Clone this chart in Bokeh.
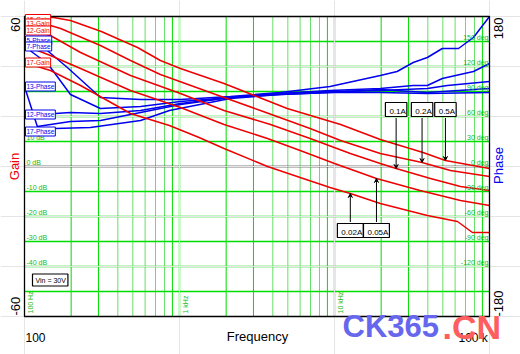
import math
import numpy as np
from bokeh.plotting import figure
from bokeh.models import Range1d, Label, Arrow, VeeHead
from bokeh.embed import file_html
from bokeh.resources import INLINE

# ---------------- data ----------------
# gain curves (dB) for load currents
g05_f = [100, 154, 198, 313, 536, 753, 1014, 1938, 4955, 10950, 19750, 37270, 51960, 100000]
g05_v = [60, 59.6, 58.4, 54, 47.6, 42.4, 39.2, 33.2, 23.2, 16.8, 10.8, 5.6, 2.4, -0.8]

g02_f = [100, 127, 171, 309, 483, 753, 1938, 3327, 6961, 10950, 19750, 36720, 56000, 100000]
g02_v = [58, 57.6, 55.2, 48.4, 42.4, 36.8, 27.6, 22.4, 15.2, 10.4, 5.2, 1.6, -1.6, -4]

g01_f = [100, 147, 230, 483, 1014, 1938, 3865, 6961, 12650, 19750, 24980, 41600, 65000, 100000]
g01_v = [55.2, 52.4, 45.6, 36.4, 29.2, 22.4, 16.8, 11.2, 5.2, 1.2, -0.8, -4.8, -8, -9.6]

g005_f = [100, 147, 230, 483, 1014, 1938, 3696, 6004, 10000, 18650, 35650, 65000, 100000]
g005_v = [48.4, 44.4, 39.2, 30.4, 23.6, 16.8, 11.2, 6.4, 1.2, -4.8, -9.6, -13.6, -15.6]

g002_f = [100, 147, 230, 483, 861, 1338, 1938, 3696, 6004, 9356, 12650, 19750, 39720, 62160, 77600, 100000]
g002_v = [41.6, 38.4, 32.4, 21.2, 16.4, 11.6, 7.2, 0, -4.4, -8.4, -10.8, -14.8, -19.6, -22, -26.4, -26.4]

# phase curves (deg)
p5_f = [100, 133, 189, 309, 561, 1014, 2127, 4475, 9356, 19750, 25350, 32200, 39720, 49600, 63100, 78800, 100000]
p5_v = [151.2, 142.8, 118.8, 82.8, 80.4, 80.4, 84, 88.8, 96, 109.2, 114, 124.8, 130.8, 141.6, 141.6, 154.8, 180]

p7_f = [100, 141, 198, 309, 561, 1014, 2127, 4475, 9356, 19750, 32200, 39720, 49600, 78800, 100000]
p7_v = [144, 123.6, 86.4, 69.6, 72, 78, 82.8, 87.6, 91.2, 93.6, 97.2, 97.2, 105.6, 114, 123.6]

p13_f = [100, 121, 198, 309, 561, 1014, 2127, 4475, 9356, 19750, 39720, 53520, 100000]
p13_v = [96, 48, 54, 55.2, 64.8, 74.4, 82.8, 87.6, 90, 91.2, 93.6, 97.2, 102]

p12_f = [100, 158, 198, 309, 561, 1014, 2127, 4475, 9356, 19750, 39720, 100000]
p12_v = [62.4, 63.6, 64.8, 63.6, 67.2, 75.6, 82.8, 86.4, 88.8, 92.4, 88.8, 93.6]

p17_f = [100, 158, 266, 561, 861, 2127, 4475, 9356, 19750, 39720, 100000]
p17_v = [42, 45.6, 46.8, 55.2, 67.2, 81.6, 86.4, 88.8, 88.8, 87.6, 88.8]

gain_names = ["15-Gain", "13-Gain", "12-Gain", "17-Gain"]
gain_name_pos = [59.0, 57.2, 54.4, 41.6]
phase_names = ["5-Phase", "7-Phase", "13-Phase", "12-Phase", "17-Phase"]
phase_name_pos = [151.2, 144, 96, 62.4, 42]

current_labels = ["0.02A", "0.05A", "0.1A", "0.2A", "0.5A"]
current_freqs = [12650, 18650, 24980, 36720, 51960]

gain_ticks = [10, 0, -10, -20, -30, -40]
phase_ticks = [150, 120, 90, 60, 30, 0, -30, -60, -90, -120]
freq_tick_labels = {100: "100 Hz", 1000: "1 kHz", 10000: "10 kHz"}

# ---------------- layout ----------------
W, H = 520, 354
L, R, T, B = 24, 489, 16, 316          # plot box in canvas pixels
FMIN, FMAX = 100, 100000
GMIN, GMAX = -60, 60
PMIN, PMAX = -180, 180

dec_px = (R - L) / math.log10(FMAX / FMIN)
x_lo = 10 ** (math.log10(FMIN) - L / dec_px)
x_hi = 10 ** (math.log10(FMAX) + (W - R) / dec_px)
gpp = (GMAX - GMIN) / (B - T)
ppp = (PMAX - PMIN) / (B - T)

RED = "#ee0000"
BLUE = "#0000ee"
GREEN = "#00dd00"
LGREEN = "#66e066"
TGREEN = "#11bb11"
FONT = "Liberation Sans"

p = figure(width=W, height=H, x_axis_type="log",
           x_range=Range1d(x_lo, x_hi),
           y_range=Range1d(GMIN - (H - B) * gpp, GMAX + T * gpp),
           output_backend="svg", toolbar_location=None,
           x_axis_location=None, y_axis_location=None,
           min_border=0, min_border_left=0, min_border_right=0,
           min_border_top=0, min_border_bottom=0)
p.extra_y_ranges = {"phase": Range1d(PMIN - (H - B) * ppp, PMAX + T * ppp)}
p.outline_line_color = None
p.background_fill_color = "white"
p.border_fill_color = "white"

# vertical grid
vf, vc, vw = [], [], []
for d in range(2, 5):
    for m in range(1, 10):
        f = m * 10 ** d
        if f <= FMIN or f >= FMAX:
            continue
        vf.append(f)
        vc.append(GREEN if m in (1, 2, 3, 9) else LGREEN)
        vw.append(1.4 if m == 1 else 1.0)
p.segment(x0=vf, x1=vf, y0=GMIN, y1=GMAX, line_color=vc, line_width=vw, level="underlay")

# horizontal grid
hg = [g for g in range(GMIN + 10, GMAX, 10) if g != 0]
p.segment(x0=FMIN, x1=FMAX, y0=hg, y1=hg, line_color=GREEN, line_width=1.6, level="underlay")
p.segment(x0=[FMIN], x1=[FMAX], y0=[0], y1=[0], line_color="black", line_width=1.4,
          level="underlay")

# small grid labels
for gv in gain_ticks:
    p.add_layout(Label(x=FMIN, y=gv, x_offset=2, y_offset=1, text=f"{gv} dB",
                       text_font=FONT, text_font_size="7px",
                       text_color=TGREEN, text_baseline="bottom",
                       text_align="left"))
for pv in phase_ticks:
    p.add_layout(Label(x=FMAX, y=pv, y_range_name="phase", x_offset=-1, y_offset=1,
                       text=f"{pv} deg", text_font=FONT, text_font_size="7px",
                       text_color=TGREEN, text_baseline="bottom",
                       text_align="right"))
for fv, txt in freq_tick_labels.items():
    p.add_layout(Label(x=fv, y=GMIN, x_offset=2, y_offset=3, text=txt, angle=math.pi / 2,
                       text_font=FONT, text_font_size="7px",
                       text_color=TGREEN, text_baseline="top",
                       text_align="left"))

# curves
gain_f = [g05_f, g02_f, g01_f, g005_f, g002_f]
gain_v = [g05_v, g02_v, g01_v, g005_v, g002_v]
phase_f = [p5_f, p7_f, p13_f, p12_f, p17_f]
phase_v = [p5_v, p7_v, p13_v, p12_v, p17_v]

for f, v in zip(phase_f, phase_v):
    p.line(f, v, y_range_name="phase", line_color=BLUE, line_width=1.5)
for f, v in zip(gain_f, gain_v):
    p.line(f, v, line_color=RED, line_width=1.5)

# plot border
p.quad(left=[FMIN], right=[FMAX], bottom=[GMIN], top=[GMAX], fill_color=None,
       line_color="black", line_width=1.3)

# trace labels
for name, yv in zip(gain_names, gain_name_pos):
    p.add_layout(Label(x=FMIN, y=yv, x_offset=1, text=name, text_font=FONT,
                       text_font_size="6.5px", text_color=RED, text_baseline="middle",
                       text_align="left", border_line_color=RED,
                       background_fill_color="white", padding=1))
for name, yv in zip(phase_names, phase_name_pos):
    p.add_layout(Label(x=FMIN, y=yv, y_range_name="phase", x_offset=1, text=name,
                       text_font=FONT, text_font_size="6.5px", text_color=BLUE,
                       text_baseline="middle", text_align="left",
                       border_line_color=BLUE, background_fill_color="white", padding=1))

# current annotations
curve_for_label = [g002_f, g005_f, g01_f, g02_f, g05_f]
curve_v_for_label = [g002_v, g005_v, g01_v, g02_v, g05_v]
for lab, fq, cf, cv in zip(current_labels, current_freqs, curve_for_label, curve_v_for_label):
    tip = float(np.interp(np.log10(fq), np.log10(cf), cv))
    low = lab in ("0.02A", "0.05A")
    box_y = -25.6 if low else 22.8
    start_y = box_y + 3.4 if low else box_y - 3.4
    p.add_layout(Arrow(x_start=fq, y_start=start_y, x_end=fq, y_end=tip,
                       line_color="black", line_width=1,
                       end=VeeHead(size=4, line_color="black", fill_color="black")))
    p.add_layout(Label(x=fq, y=box_y, text=lab, text_font=FONT, text_font_size="8px",
                       text_color="black", text_align="center", text_baseline="middle",
                       border_line_color="black", border_line_width=1.2,
                       background_fill_color="white", padding=(4, 1, 4, 1)))

# Vin box
p.add_layout(Label(x=FMIN, y=-45.4, x_offset=8, text="Vin = 30V", text_font=FONT,
                   text_font_size="7px", text_color="black", text_baseline="middle",
                   text_align="left", border_line_color="black", border_line_width=1.2,
                   background_fill_color="white", padding=(3, 2, 3, 2)))

# outer texts (screen units: from canvas left / bottom)
def outer(x, y, text, color="black", size="13px", angle=0.0, align="left",
          baseline="alphabetic", bold=False):
    p.add_layout(Label(x=x, y=H - y, x_units="screen", y_units="screen", text=text,
                       angle=angle, text_font=FONT, text_font_size=size,
                       text_color=color, text_align=align, text_baseline=baseline,
                       text_font_style="bold" if bold else "normal"))

outer(15, 17, "60", angle=math.pi / 2, align="right", baseline="middle")
outer(15, 315, "-60", angle=math.pi / 2, align="left", baseline="middle")
outer(14, 166, "Gain", color=RED, angle=math.pi / 2, align="center", baseline="middle")
outer(498, 17, "180", angle=math.pi / 2, align="right", baseline="middle")
outer(498, 316, "-180", angle=math.pi / 2, align="left", baseline="middle")
outer(498, 165, "Phase", color=BLUE, angle=math.pi / 2, align="center", baseline="middle")
outer(25, 337, "100", size="12px")
outer(257, 336, "Frequency", size="13px", align="center")
outer(458, 337, "100 k", size="12px")

# watermark
outer(342, 326, "CK365", color="#6767ee", size="31px", bold=True)
outer(442, 326, ".CN", color="#ff5e5e", size="34px", bold=True)

open("out.html", "w").write(file_html(p, INLINE))
